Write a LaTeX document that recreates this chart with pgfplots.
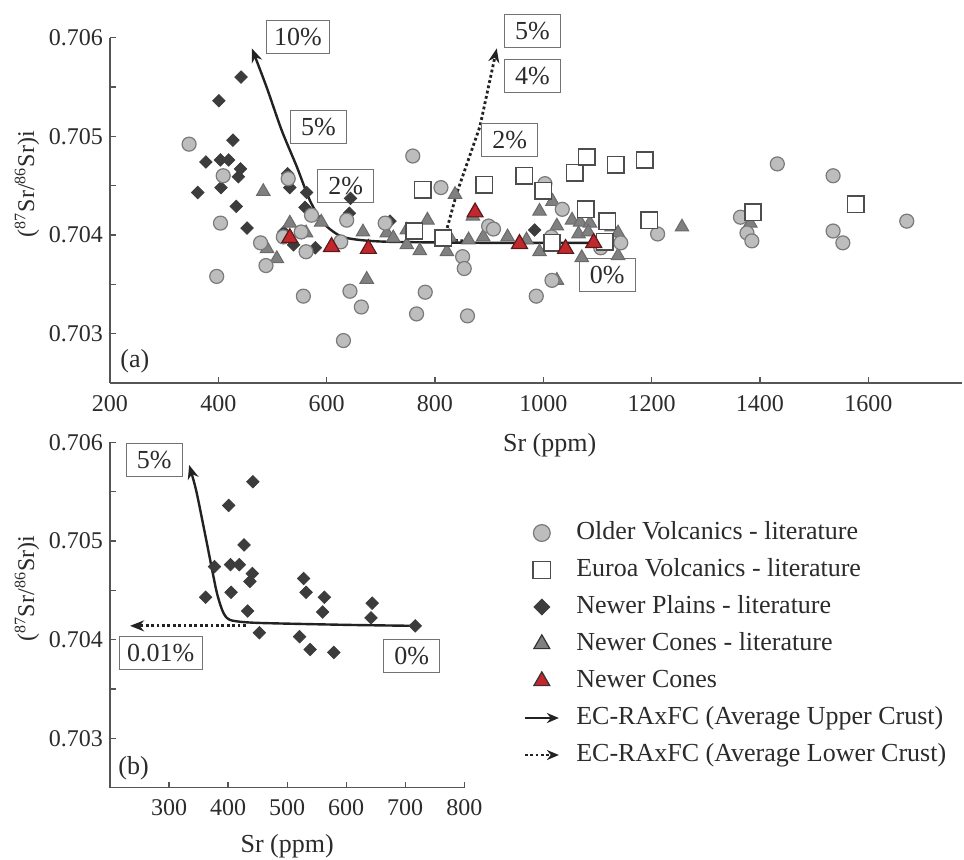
\documentclass[border=0pt]{standalone}
\usepackage{fontspec}
\setmainfont{Liberation Serif}
\usepackage{pgfplots}
\pgfplotsset{compat=1.18}
\usetikzlibrary{arrows.meta}

\definecolor{circfill}{HTML}{BDBDBD}
\definecolor{circdraw}{HTML}{7A7A7A}
\definecolor{sqdraw}{HTML}{4D4D4D}
\definecolor{diafill}{HTML}{3C3C3C}
\definecolor{trifill}{HTML}{808080}
\definecolor{tridraw}{HTML}{6A6A6A}
\definecolor{redfill}{HTML}{C1272D}
\definecolor{reddraw}{HTML}{5A1A1A}
\definecolor{axiscol}{HTML}{555555}
\definecolor{txt}{HTML}{2B2B2B}
\definecolor{curve}{HTML}{222222}

\tikzset{
  lbl/.style={draw=black!55, fill=white, line width=0.5pt, inner xsep=4pt, inner ysep=2pt,
    minimum width=28pt, minimum height=16.5pt, font=\fontsize{13}{15}\selectfont, text=txt},
}

\pgfplotsset{
  base/.style={
    scale only axis,
    axis x line*=bottom, axis y line*=left,
    axis line style={axiscol, line width=0.6pt},
    tick align=inside,
    major tick length=3pt, minor tick length=3pt,
    every tick/.style={axiscol, line width=0.6pt},
    tick label style={font=\fontsize{12}{14}\selectfont, text=txt},
    label style={font=\fontsize{13}{15}\selectfont, text=txt},
    /pgf/number format/assume math mode=true,
    ymin=0.7025, ymax=0.706,
    ytick={0.703,0.704,0.705,0.706},
    minor ytick={0.7025,0.7035,0.7045,0.7055},
    yticklabel style={/pgf/number format/.cd, fixed, fixed zerofill, precision=3},
    xticklabel style={/pgf/number format/1000 sep={}, yshift=-2.5pt},
    scaled y ticks=false, scaled x ticks=false,
    ylabel={(\textsuperscript{87}Sr/\textsuperscript{86}Sr)i},
    ylabel style={at={(axis description cs:0,0.5)}, rotate=0, anchor=center,
      yshift=41.5pt, xshift=13pt, font=\fontsize{12}{14}\selectfont},
    xlabel={Sr (ppm)},
    clip=false,
  },
  circ/.style={only marks, mark=*, mark size=3.5pt, mark options={fill=circfill, draw=circdraw, line width=0.6pt}},
  sq/.style={only marks, mark=square*, mark size=4.1pt, mark options={fill=white, draw=sqdraw, line width=0.8pt}},
  dia/.style={only marks, mark=square*, mark size=2.2pt, mark options={rotate=45, fill=diafill, draw=diafill, line width=0.4pt}},
  tri/.style={only marks, mark=triangle*, mark size=3.9pt, mark options={fill=trifill, draw=tridraw, line width=0.5pt}},
  rtri/.style={only marks, mark=triangle*, mark size=4.6pt, mark options={fill=redfill, draw=reddraw, line width=0.6pt}},
  upper/.style={line width=1.2pt, color=curve, -{Stealth[length=7pt,width=5.5pt]}},
  lower/.style={line width=1.4pt, color=curve, dash pattern=on 1.4pt off 1.3pt, -{Stealth[length=7pt,width=5.5pt]}},
}

\begin{document}
\begin{tikzpicture}
\useasboundingbox (0,0) rectangle (482pt,430pt);

% ---------------- panel (a) ----------------
\begin{axis}[base,
  at={(55pt,238.5pt)}, anchor=south west,
  width=426pt, height=172.7pt,
  xmin=200, xmax=1773,
  xtick={200,400,600,800,1000,1200,1400,1600},
  xlabel style={at={(axis description cs:0.516,0)}, anchor=north, yshift=-21.5pt},
  legend cell align=left,
  legend style={at={(axis description cs:0.4847,-0.3970)}, anchor=north west,
    draw=none, fill=none, inner sep=0pt, row sep=6pt, column sep=8pt,
    font=\fontsize{13}{15}\selectfont, text=txt,
    nodes={inner sep=0pt, text height=9.5pt, text depth=3pt}},
]
% Newer Plains - literature
\addplot[dia, forget plot] table {
x y
442 0.70560
401 0.70536
427 0.70496
377 0.70474
404 0.70476
419 0.70476
441 0.70467
437 0.70459
362 0.70443
405 0.70448
433 0.70429
453 0.70407
528 0.70462
532 0.70448
563 0.70443
560 0.70428
521 0.70403
539 0.70390
579 0.70387
644 0.70437
642 0.70422
717 0.70414
984 0.70405
};
% Newer Cones - literature
\addplot[tri, forget plot] table {
x y
483 0.70444
508 0.70376
490 0.70386
532 0.70412
562 0.70402
590 0.70413
667 0.70403
674 0.70355
711 0.70402
723 0.70397
748 0.70405
748 0.70390
772 0.70384
786 0.70415
822 0.70383
827 0.70398
837 0.70441
862 0.70395
870 0.70419
889 0.70398
934 0.70398
969 0.70395
993 0.70424
1017 0.70434
993 0.70383
1025 0.70409
1025 0.70354
1053 0.70415
1068 0.70413
1065 0.70401
1086 0.70412
1083 0.70403
1071 0.70377
1126 0.70408
1138 0.70402
1138 0.70379
1200 0.70411
1256 0.70408
1382 0.70412
};
% Older Volcanics - literature
\addplot[circ, forget plot] table {
x y
346 0.70492
409 0.70460
404 0.70412
397 0.70358
478 0.70392
488 0.70369
529 0.70457
520 0.70398
553 0.70403
562 0.70383
572 0.70420
557 0.70338
637 0.70415
626 0.70393
643 0.70343
664 0.70327
631 0.70293
708 0.70412
759 0.70480
811 0.70448
782 0.70342
766 0.70320
899 0.70409
908 0.70406
851 0.70378
854 0.70366
860 0.70318
1003 0.70452
1035 0.70426
1015 0.70398
1016 0.70354
987 0.70338
1106 0.70387
1143 0.70392
1211 0.70401
1432 0.70472
1364 0.70418
1376 0.70402
1385 0.70394
1535 0.70460
1535 0.70404
1553 0.70392
1671 0.70414
};
% Euroa Volcanics - literature
\addplot[sq, forget plot] table {
x y
777 0.70446
891 0.70451
965 0.70460
1000 0.70445
1058 0.70463
1080 0.70479
1134 0.70471
1187 0.70476
1078 0.70426
1118 0.70414
1196 0.70415
762 0.70404
815 0.70397
1016 0.70392
1113 0.70393
1387 0.70423
1577 0.70431
};
% EC-RAxFC lower crust
\addplot[lower, forget plot] coordinates {
(852,0.70394) (826,0.70395) (820,0.70402) (840,0.70442) (883,0.70510) (914,0.70589)
};
% EC-RAxFC upper crust
\addplot[upper, smooth, tension=0.45, forget plot] coordinates {
(1095,0.70392) (900,0.70392) (720,0.70393) (660,0.70395) (625,0.70399) (594,0.70412)
(569,0.70435) (545,0.70469) (517,0.70506) (489,0.70550) (462,0.70589)
};
% Newer Cones
\addplot[rtri, forget plot] table {
x y
532 0.70397
609 0.70388
677 0.70386
874 0.70423
956 0.70391
1041 0.70386
1093 0.70392
};
\node[lbl] at (axis cs:547,0.70601) {10\%};
\node[lbl] at (axis cs:585,0.70509) {5\%};
\node[lbl] at (axis cs:635,0.70450) {2\%};
\node[lbl] at (axis cs:1118,0.70359) {0\%};
\node[lbl] at (axis cs:980,0.70607) {5\%};
\node[lbl] at (axis cs:980,0.70561) {4\%};
\node[lbl] at (axis cs:938,0.70496) {2\%};
\node[anchor=south west, inner sep=0pt, font=\fontsize{13}{15}\selectfont, text=txt]
  at (rel axis cs:0,0) [xshift=5pt, yshift=5pt] {(a)};

\addlegendimage{circ, mark size=4.2pt}
\addlegendentry{Older Volcanics - literature}
\addlegendimage{sq, mark size=4.3pt}
\addlegendentry{Euroa Volcanics - literature}
\addlegendimage{dia, mark size=2.8pt}
\addlegendentry{Newer Plains - literature}
\addlegendimage{only marks, mark=triangle*, mark size=4.6pt, mark options={fill=trifill, draw=black!80, line width=0.6pt}}
\addlegendentry{Newer Cones - literature}
\addlegendimage{only marks, mark=triangle*, mark size=4.6pt, mark options={fill=redfill, draw=black!80, line width=0.6pt}}
\addlegendentry{Newer Cones}
\addlegendimage{legend image code/.code={\draw[line width=1.2pt, color=curve, -{Stealth[length=6pt,width=5pt]}] (0cm,0cm) -- (0.6cm,0cm);}}
\addlegendentry{EC-RAxFC (Average Upper Crust)}
\addlegendimage{legend image code/.code={\draw[line width=1.4pt, color=curve, dash pattern=on 1.4pt off 1.3pt, -{Stealth[length=6pt,width=5pt]}] (0cm,0cm) -- (0.6cm,0cm);}}
\addlegendentry{EC-RAxFC (Average Lower Crust)}
\end{axis}

% ---------------- panel (b) ----------------
\begin{axis}[base,
  at={(55pt,36.15pt)}, anchor=south west,
  width=177.15pt, height=172.7pt,
  xmin=200, xmax=800,
  xtick={300,400,500,600,700,800},
  xlabel style={at={(axis description cs:0.5,0)}, anchor=north, yshift=-20pt},
]
\addplot[lower] coordinates {(430,0.70414) (234,0.70414)};
\addplot[upper, smooth, tension=0.45] coordinates {
(717,0.70414) (600,0.70415) (450,0.70417) (410,0.70419) (398,0.70422) (390,0.70430)
(380,0.70450) (363,0.70501) (346,0.70551) (334,0.70577)
};
\addplot[dia] table {
x y
442 0.70560
401 0.70536
427 0.70496
377 0.70474
404 0.70476
419 0.70476
441 0.70467
437 0.70459
362 0.70443
405 0.70448
433 0.70429
453 0.70407
528 0.70462
532 0.70448
563 0.70443
560 0.70428
521 0.70403
539 0.70390
579 0.70387
644 0.70437
642 0.70422
717 0.70414
};
\node[lbl] at (axis cs:275,0.70582) {5\%};
\node[lbl] at (axis cs:286,0.70386) {0.01\%};
\node[lbl] at (axis cs:711,0.70383) {0\%};
\node[anchor=south west, inner sep=0pt, font=\fontsize{13}{15}\selectfont, text=txt]
  at (rel axis cs:0,0) [xshift=4pt, yshift=3.5pt] {(b)};
\end{axis}
\end{tikzpicture}
\end{document}
